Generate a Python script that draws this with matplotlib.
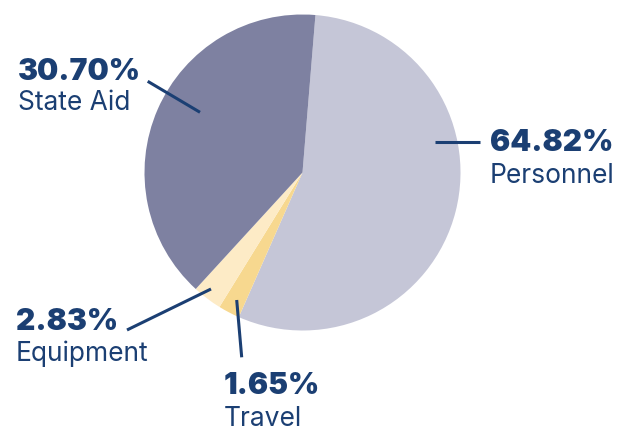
import matplotlib
matplotlib.use("Agg")
import matplotlib.pyplot as plt
from matplotlib.lines import Line2D

# Data
categories = ["Personnel", "Travel", "Equipment", "State Aid"]
pct_labels = ["64.82%", "1.65%", "2.83%", "30.70%"]
slice_sizes = [55.3, 2.2, 3.0, 39.5]   # as drawn in the picture
colors = ["#C5C6D7", "#F7D88F", "#FDEBC6", "#7E81A1"]

W, H = 619, 435
navy = "#1B3F73"
fig = plt.figure(figsize=(W / 100, H / 100), dpi=100)

cx, cy, R = 302.5, 173.5, 158
ax = fig.add_axes([(cx - R) / W, 1 - (cy + R) / H, 2 * R / W, 2 * R / H])
ax.pie(slice_sizes, colors=colors, startangle=85.3, counterclock=False,
       radius=1, wedgeprops=dict(linewidth=0))
ax.set_xlim(-1, 1)
ax.set_ylim(-1, 1)
ax.axis("off")

def fx(x):
    return x / W

def fy(y):
    return 1 - y / H

# label layout (pixel positions): left x, pct-baseline, name-baseline
label_pos = {
    "State Aid": (18, 79.5, 110.5),
    "Personnel": (490, 151.5, 183.5),
    "Equipment": (16, 330, 361.5),
    "Travel": (224, 394, 426),
}
leaders = {
    "State Aid": ((200, 113.3), (147.7, 82.3)),
    "Personnel": ((435, 142.7), (480, 142.7)),
    "Equipment": ((211, 290), (127, 331)),
    "Travel": ((236.7, 301), (241.7, 358.3)),
}

for cat, pct in zip(categories, pct_labels):
    x, yb1, yb2 = label_pos[cat]
    fig.text(fx(x), fy(yb1), pct, fontsize=21.6, fontweight="black",
             family="Inter", color=navy, va="baseline", ha="left")
    fig.text(fx(x), fy(yb2), cat, fontsize=19, fontweight="normal",
             family="Inter", color=navy, va="baseline", ha="left")
    (x0, y0), (x1, y1) = leaders[cat]
    fig.add_artist(Line2D([fx(x0), fx(x1)], [fy(y0), fy(y1)],
                          transform=fig.transFigure, color=navy, lw=2.2,
                          solid_capstyle="butt"))

fig.savefig("out.png", dpi=100)
